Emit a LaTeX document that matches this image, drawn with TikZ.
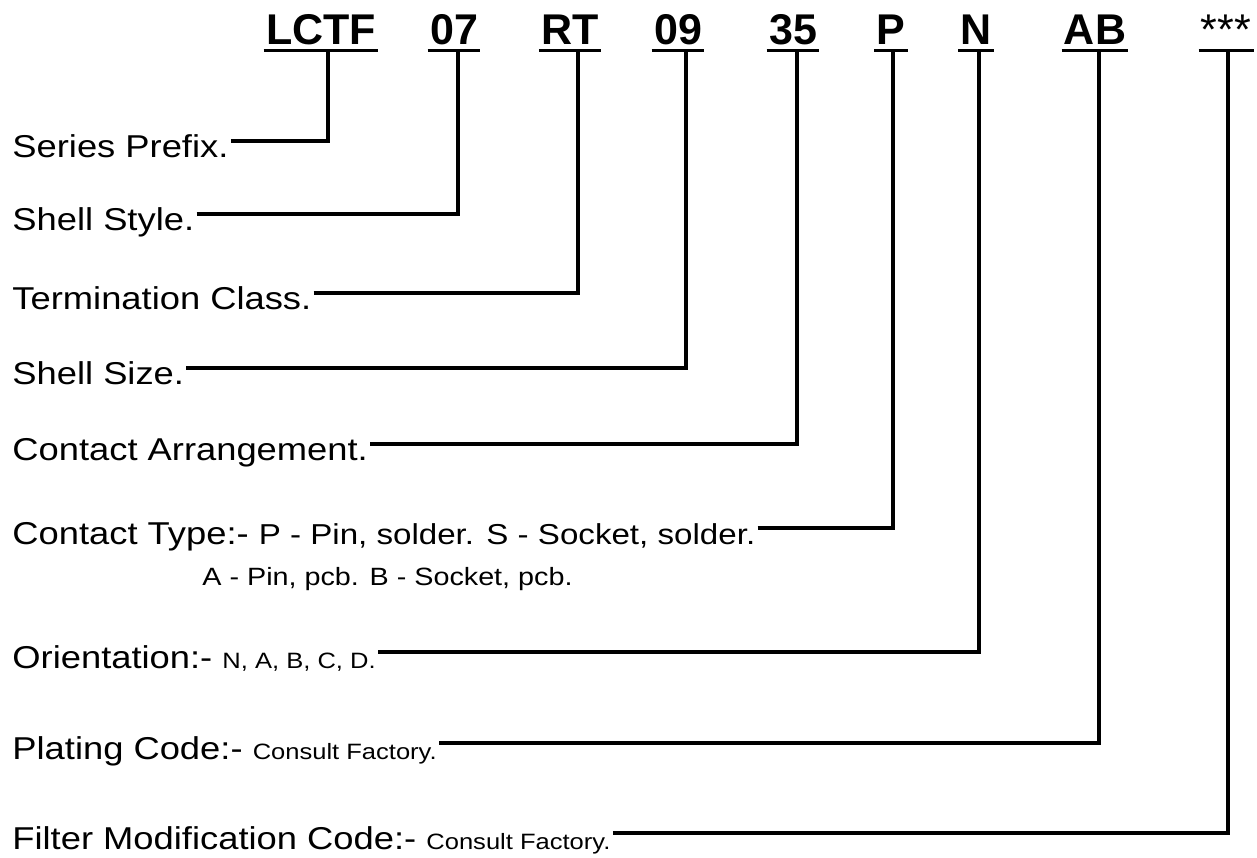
\documentclass[tikz,border=0pt]{standalone}
\usepackage{fontspec}
\setmainfont{Liberation Sans}
\newfontfamily\widesans{Liberation Sans}[FakeStretch=1.15]
\newcommand{\smalltxt}[1]{{\fontsize{11.1}{13}\selectfont #1}}
\newcommand{\midtxt}[1]{{\fontsize{14.4}{16}\selectfont #1}}
\newcommand{\lowtxt}[1]{{\fontsize{12.5}{14}\selectfont #1}}
\begin{document}
\begin{tikzpicture}[
  x=0.5pt, y=-0.5pt,
  code/.style={font=\bfseries\fontsize{21.5}{24}\selectfont, anchor=base, inner xsep=1pt, inner ysep=3pt, text depth=0pt},
  lbl/.style={font=\widesans\fontsize{15.8}{18}\selectfont, anchor=base west, inner xsep=1pt, inner ysep=0pt},
  lead/.style={line width=2pt},
  uline/.style={line width=1.2pt}
]
\useasboundingbox (0,0) rectangle (1257,857);
% part number
\foreach \t/\x [count=\i] in {LCTF/321, 07/454, RT/570, 09/678, 35/793, P/891, N/976, AB/1095, {\mdseries***}/1226}{
  \node[code] (c\i) at (\x,44) {\t};
  \draw[uline] (c\i.south west) -- (c\i.south east);
}
% descriptions
\node[lbl] (s1) at (10,157) {Series Prefix.};
\node[lbl] (s2) at (10,230) {Shell Style.};
\node[lbl] (s3) at (10,309) {Termination Class.};
\node[lbl] (s4) at (10,384) {Shell Size.};
\node[lbl] (s5) at (10,460) {Contact Arrangement.};
\node[lbl] (s6) at (10,544) {Contact Type:- \midtxt{P - Pin, solder. S - Socket, solder.}};
\node[lbl] (s6b) at (200,585) {\lowtxt{A - Pin, pcb. B - Socket, pcb.}};
\node[lbl] (s7) at (10,668) {Orientation:- \smalltxt{N, A, B, C, D.}};
\node[lbl] (s8) at (10,759) {Plating Code:- \smalltxt{Consult Factory.}};
\node[lbl] (s9) at (10,849) {Filter Modification Code:- \smalltxt{Consult Factory.}};
% leaders
\foreach \i/\d in {1/3.5, 2/2, 3/4, 4/4, 5/2, 6/1, 7/1.5, 8/2, 9/1}{
  \draw[lead] ([yshift=8pt]s\i.base east) -| ([xshift=\d pt]c\i.south);
}
\end{tikzpicture}
\end{document}
